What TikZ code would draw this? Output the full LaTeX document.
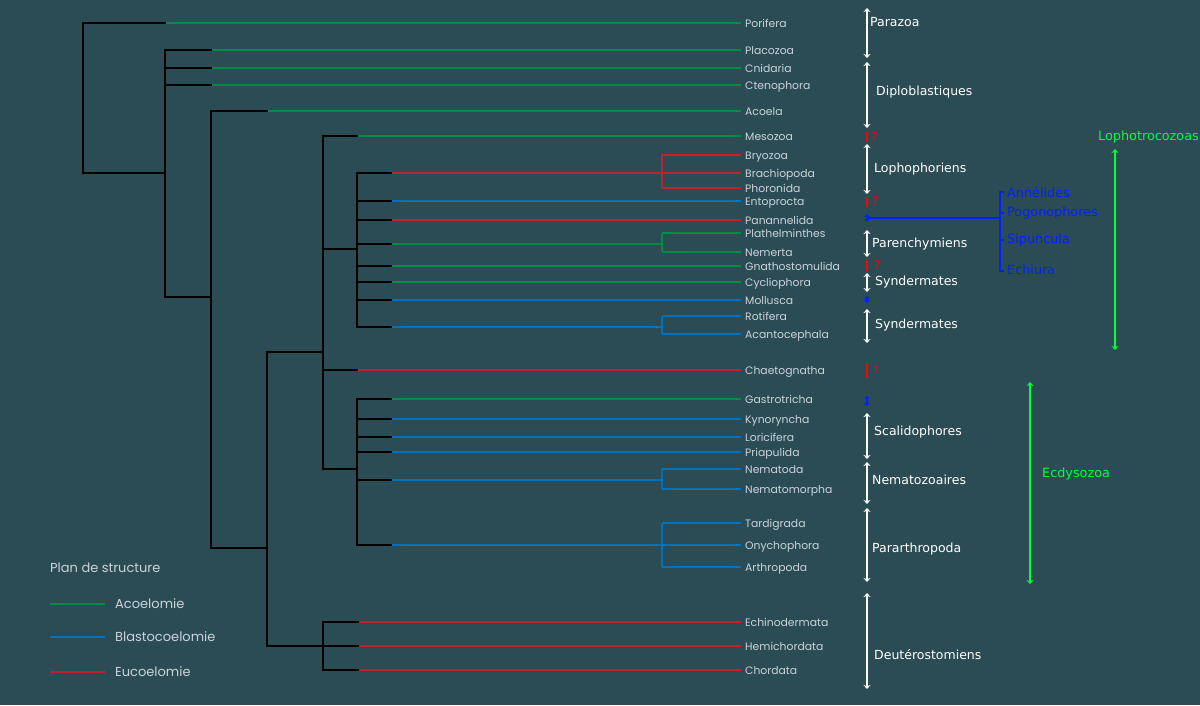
\documentclass[tikz,border=0pt]{standalone}
\usepackage{fontspec}
\setmainfont{Poppins}
\newfontfamily\pix{DejaVu Sans}
\usetikzlibrary{arrows.meta}
\definecolor{bg}{RGB}{44,76,85}
\definecolor{acoel}{RGB}{0,140,70}
\definecolor{blasto}{RGB}{0,114,188}
\definecolor{euco}{RGB}{190,35,45}
\definecolor{lbl}{RGB}{200,212,218}
\definecolor{lgreen}{RGB}{0,255,51}
\definecolor{lblue}{RGB}{0,34,255}
\definecolor{qred}{RGB}{255,0,0}
\newcommand\leafnode[3]{\coordinate (t#1) at (741,#2); \node[leaf] (#1) at (745,#2+4) {#3};}
\newcommand\br[5]{\draw[#4] (#2,#3) -- (t#5); \draw[blk] (#1,#3) -- (#2,#3);}
\begin{document}
\begin{tikzpicture}[x=1pt,y=-1pt,
  blk/.style={line width=2.2pt, black, line cap=rect},
  acl/.style={line width=2pt, acoel},
  bla/.style={line width=2pt, blasto},
  euc/.style={line width=2pt, euco},
  leaf/.style={anchor=base west, inner sep=0pt, text=lbl, font=\fontsize{10.8}{12}\selectfont},
  grp/.style={anchor=west, inner sep=0pt, text=white, font=\pix\fontsize{12.5}{14}\selectfont},
  warr/.style={draw=white, line width=1.5pt, {Stealth[length=4pt,width=7pt]}-{Stealth[length=4pt,width=7pt]}},
  barr/.style={draw=lblue, line width=1.3pt, {Stealth[length=3pt,width=6pt]}-{Stealth[length=3pt,width=6pt]}},
  garr/.style={draw=lgreen, line width=1.8pt, {Stealth[length=4pt,width=7pt]}-{Stealth[length=4pt,width=7pt]}},
  qbar/.style={draw=qred, line width=2.8pt},
  qmark/.style={anchor=west, inner sep=0pt, text=qred, font=\pix\fontsize{12}{13}\selectfont},
  blu/.style={anchor=west, inner sep=0pt, text=lblue, font=\pix\fontsize{12.8}{14}\selectfont},
  grn/.style={anchor=west, inner sep=0pt, text=lgreen, font=\pix\fontsize{12.8}{14}\selectfont},
  leg/.style={anchor=west, inner sep=0pt, text=lbl, font=\fontsize{13}{15}\selectfont}
]
\fill[bg] (0,0) rectangle (1200,705);
\useasboundingbox (0,0) rectangle (1200,705);

% leaves
\leafnode{porifera}{23}{Porifera}
\leafnode{placozoa}{50}{Placozoa}
\leafnode{cnidaria}{68}{Cnidaria}
\leafnode{ctenophora}{85}{Ctenophora}
\leafnode{acoela}{111}{Acoela}
\leafnode{mesozoa}{136}{Mesozoa}
\leafnode{bryozoa}{155}{Bryozoa}
\leafnode{brachiopoda}{173}{Brachiopoda}
\leafnode{phoronida}{188}{Phoronida}
\leafnode{entoprocta}{201}{Entoprocta}
\leafnode{panannelida}{220}{Panannelida}
\leafnode{plathel}{233}{Plathelminthes}
\leafnode{nemerta}{252}{Nemerta}
\leafnode{gnatho}{266}{Gnathostomulida}
\leafnode{cyclio}{282}{Cycliophora}
\leafnode{mollusca}{300}{Mollusca}
\leafnode{rotifera}{316}{Rotifera}
\leafnode{acanto}{334}{Acantocephala}
\leafnode{chaeto}{370}{Chaetognatha}
\leafnode{gastro}{399}{Gastrotricha}
\leafnode{kyno}{419}{Kynoryncha}
\leafnode{lorici}{437}{Loricifera}
\leafnode{priapu}{452}{Priapulida}
\leafnode{nematoda}{469}{Nematoda}
\leafnode{nematomorpha}{489}{Nematomorpha}
\leafnode{tardi}{523}{Tardigrada}
\leafnode{onycho}{545}{Onychophora}
\leafnode{arthro}{567}{Arthropoda}
\leafnode{echino}{622}{Echinodermata}
\leafnode{hemi}{646}{Hemichordata}
\leafnode{chordata}{670}{Chordata}

% internal nodes
\coordinate (nroot) at (83,173);
\coordinate (nA) at (165,173);
\coordinate (nB) at (211,297);
\coordinate (nC) at (267,548);
\coordinate (nD) at (323,352);
\coordinate (nE) at (357,249);
\coordinate (nF) at (357,469);
\coordinate (nG) at (323,646);

% root
\draw[blk] (83,23) -- (nroot) -- (nA);
\br{83}{165}{23}{acl}{porifera}
% node A
\draw[blk] (165,50) -- (165,297) -- (nB);
\br{165}{211}{50}{acl}{placozoa}
\br{165}{211}{68}{acl}{cnidaria}
\br{165}{211}{85}{acl}{ctenophora}
% node B
\draw[blk] (211,111) -- (211,548) -- (nC);
\br{211}{267}{111}{acl}{acoela}
% node C
\draw[blk] (267,352) -- (267,646);
\draw[blk] (267,352) -- (nD);
\draw[blk] (267,646) -- (nG);
% node D (protostomes)
\draw[blk] (323,136) -- (323,469);
\br{323}{357}{136}{acl}{mesozoa}
\draw[blk] (323,249) -- (nE);
\br{323}{357}{370}{euc}{chaeto}
\draw[blk] (323,469) -- (nF);
% node E (lophotrochozoa)
\draw[blk] (357,173) -- (357,327);
\draw[euc] (391,173) -- (662,173);
\draw[euc] (662,155) -- (662,188);
\draw[euc] (662,155) -- (tbryozoa);
\draw[euc] (662,173) -- (tbrachiopoda);
\draw[euc] (662,188) -- (tphoronida);
\draw[blk] (357,173) -- (391,173);
\br{357}{391}{201}{bla}{entoprocta}
\br{357}{391}{220}{euc}{panannelida}
\draw[acl] (391,244) -- (662,244);
\draw[acl] (662,233) -- (662,252);
\draw[acl] (662,233) -- (tplathel);
\draw[acl] (662,252) -- (tnemerta);
\draw[blk] (357,244) -- (391,244);
\br{357}{391}{266}{acl}{gnatho}
\br{357}{391}{282}{acl}{cyclio}
\br{357}{391}{300}{bla}{mollusca}
\draw[bla] (391,327) -- (662,327);
\draw[bla] (662,316) -- (662,334);
\draw[bla] (662,316) -- (trotifera);
\draw[bla] (662,334) -- (tacanto);
\draw[blk] (357,327) -- (391,327);
% node F (ecdysozoa)
\draw[blk] (357,399) -- (357,543);
\br{357}{391}{399}{acl}{gastro}
\br{357}{391}{419}{bla}{kyno}
\br{357}{391}{437}{bla}{lorici}
\br{357}{391}{452}{bla}{priapu}
\draw[bla] (391,480) -- (662,480);
\draw[bla] (662,469) -- (662,489);
\draw[bla] (662,469) -- (tnematoda);
\draw[bla] (662,489) -- (tnematomorpha);
\draw[blk] (357,480) -- (391,480);
\draw[bla] (391,545) -- (662,545);
\draw[bla] (662,523) -- (662,567);
\draw[bla] (662,523) -- (ttardi);
\draw[bla] (662,545) -- (tonycho);
\draw[bla] (662,567) -- (tarthro);
\draw[blk] (357,545) -- (391,545);
% node G (deuterostomes)
\draw[blk] (323,622) -- (323,670);
\br{323}{358}{622}{euc}{echino}
\br{323}{358}{646}{euc}{hemi}
\br{323}{358}{670}{euc}{chordata}

% group arrows
\draw[warr] (867,8) -- (867,58);
\node[grp] (parazoa) at (870,22) {Parazoa};
\draw[warr] (867,62) -- (867,128);
\node[grp] (diplo) at (876,92) {Diploblastiques};
\draw[qbar] (867,132) -- (867,142);
\node[qmark] (q1) at (871,137) {?};
\draw[warr] (867,144) -- (867,194);
\node[grp] (lopho) at (874,169) {Lophophoriens};
\draw[qbar] (867,197) -- (867,207);
\node[qmark] (q2) at (872,201) {?};
\draw[barr] (867,214) -- (867,222);
\coordinate (bj) at (1000,218);
\draw[lblue, line width=1.3pt] (867,218) -- (bj);
\draw[lblue, line width=1.3pt] (1004,192) -- (1000,192) -- (1000,271) -- (1004,271);
\draw[lblue, line width=1.3pt] (1000,213) -- (1004,213);
\draw[lblue, line width=1.3pt] (1000,240) -- (1004,240);
\node[blu] (annel) at (1007,192) {Annélides};
\node[blu] (pogo) at (1007,213) {Pogonophores};
\node[blu] (sipun) at (1007,240) {Sipuncula};
\node[blu] (echiu) at (1007,270) {Echiura};
\draw[warr] (867,230) -- (867,257);
\node[grp] (paren) at (872,244) {Parenchymiens};
\draw[qbar] (867,259) -- (867,271);
\node[qmark] (q3) at (874,265) {?};
\draw[warr] (867,273) -- (867,292);
\node[grp] (synd1) at (875,282) {Syndermates};
\draw[barr] (867,296) -- (867,303);
\draw[warr] (867,309) -- (867,343);
\node[grp] (synd2) at (875,325) {Syndermates};
\draw[qbar] (867,363) -- (867,378);
\node[qmark, font=\pix\fontsize{9}{11}\selectfont] (q4) at (874,370) {?};
\draw[barr] (867,396) -- (867,406);
\draw[warr] (867,413) -- (867,459);
\node[grp] (scali) at (874,432) {Scalidophores};
\draw[warr] (867,462) -- (867,504);
\node[grp] (nemz) at (872,480) {Nematozoaires};
\draw[warr] (867,508) -- (867,582);
\node[grp] (parar) at (872,549) {Pararthropoda};
\draw[warr] (867,593) -- (867,689);
\node[grp] (deut) at (874,655) {Deutérostomiens};

% large clades
\draw[garr] (1115,149) -- (1115,350);
\node[grn] (lophotro) at (1098,137) {Lophotrocozoas};
\draw[garr] (1030,382) -- (1030,584);
\node[grn] (ecdy) at (1042,474) {Ecdysozoa};

% legend
\node[leg] (plan) at (50,568) {Plan de structure};
\coordinate (la1) at (50,604); \coordinate (la2) at (105,604);
\coordinate (lb1) at (50,637); \coordinate (lb2) at (105,637);
\coordinate (lc1) at (50,672); \coordinate (lc2) at (105,672);
\draw[acl] (la1) -- (la2);
\draw[bla] (lb1) -- (lb2);
\draw[euc] (lc1) -- (lc2);
\node[leg] (lega) at (115,604) {Acoelomie};
\node[leg] (legb) at (115,637) {Blastocoelomie};
\node[leg] (legc) at (115,672) {Eucoelomie};
\end{tikzpicture}
\end{document}
